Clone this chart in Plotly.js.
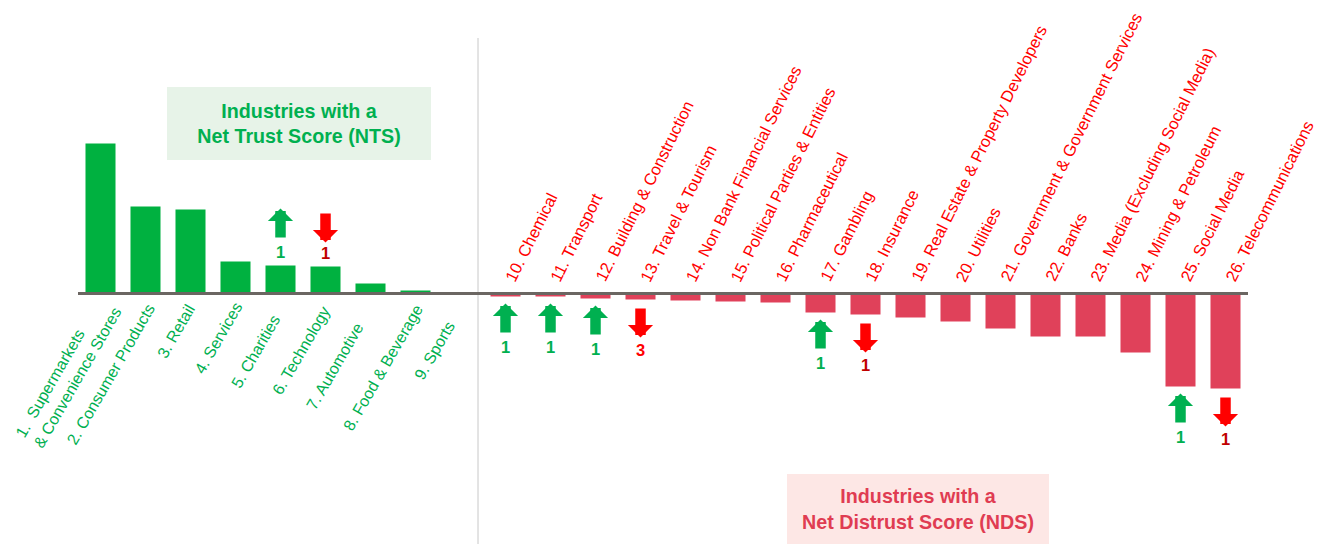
<!DOCTYPE html>
<html>
<head>
<meta charset="utf-8">
<script src="https://cdn.plot.ly/plotly-3.0.1.min.js"></script>
<style>html,body{margin:0;padding:0;background:#fff;}#chart{width:1324px;height:544px;}</style>
</head>
<body>
<div id="chart"></div>
<script>
// ---------------- data ----------------
const industries = [
  "1.&nbsp; Supermarkets<br>&amp; Convenience Stores", "2. Consumer Products", "3. Retail", "4. Services",
  "5. Charities", "6. Technology", "7. Automotive", "8. Food &amp; Beverage", "9. Sports",
  "10. Chemical", "11. Transport", "12. Building &amp; Construction", "13. Travel &amp; Tourism",
  "14. Non Bank Financial Services", "15. Political Parties &amp; Entities", "16. Pharmaceutical",
  "17. Gambling", "18. Insurance", "19. Real Estate &amp; Property Developers", "20. Utilities",
  "21. Government &amp; Government Services", "22. Banks", "23. Media (Excluding Social Media)",
  "24. Mining &amp; Petroleum", "25. Social Media", "26. Telecommunications"
];
const netScores = [30.0, 17.4, 16.8, 6.4, 5.6, 5.4, 2.0, 0.6, 0.0,
  -0.6, -0.6, -1.0, -1.2, -1.4, -1.6, -1.8, -3.8, -4.2, -4.8, -5.6, -7.0, -8.6, -8.6, -11.8, -18.6, -19.0];
const rankMove = ["", "", "", "", "up", "down", "", "", "",
  "up", "up", "up", "down", "", "", "", "up", "down", "", "", "", "", "", "", "up", "down"];
const rankMoveBy = [0, 0, 0, 0, 1, 1, 0, 0, 0, 1, 1, 1, 3, 0, 0, 0, 1, 1, 0, 0, 0, 0, 0, 0, 1, 1];
const boxTexts = ["Industries with a<br>Net Trust Score (NTS)", "Industries with a<br>Net Distrust Score (NDS)"];

// ---------------- styles ----------------
const W = 1324, H = 544;
const GREEN_BAR = "#00b140", RED_BAR = "#e0415a";
const GREEN_TXT = "#00b050", RED_TXT = "#ff0000", DARK_RED = "#c00000";
const FONT = 'Arial, "Liberation Sans", sans-serif';
const RED_LABEL = {size: 16.5, angle: -63.5};
const GREEN_LABEL = {size: 16, angle: -60};
const idx = industries.map((_, i) => i);
const brightNumber = {12: true};
// pixel shifts of the green labels' top-right corner (hand placed in the original)
const greenShift = {0: [26, 1], 1: [14, -7], 2: [9, -7], 3: [11, -5], 4: [4, -17],
  5: [9, -9], 6: [-3, -25], 7: [12, -7], 8: [-1, -24]};

const trace = {
  type: "bar", x: idx, y: netScores,
  marker: {color: netScores.map(v => v >= 0 ? GREEN_BAR : RED_BAR), line: {width: 0}},
  hoverinfo: "skip"
};

const annotations = [];
// category labels
idx.forEach(i => {
  if (netScores[i] >= 0) {
    const sh = greenShift[i] || [6, -8];
    annotations.push({x: i, y: 0, xref: "x", yref: "y", text: industries[i], showarrow: false,
      textangle: GREEN_LABEL.angle, xanchor: "right", yanchor: "top", xshift: sh[0], yshift: sh[1], align: "left",
      borderpad: 0, font: {family: FONT, size: GREEN_LABEL.size, color: GREEN_TXT}});
  } else {
    annotations.push({x: i, y: 0, xref: "x", yref: "y", text: industries[i], showarrow: false,
      textangle: RED_LABEL.angle, xanchor: "left", yanchor: "bottom", xshift: -5, yshift: 8,
      borderpad: 0, font: {family: FONT, size: RED_LABEL.size, color: RED_TXT}});
  }
});
// rank movement arrows + numbers
idx.forEach(i => {
  const dir = rankMove[i];
  if (!dir) return;
  const pos = netScores[i] >= 0;
  const up = dir === "up";
  const col = up ? "#00b050" : "#ff0000";
  let tipShift, ay, numShift;
  if (pos) {
    if (up) { tipShift = 57; ay = 30; } else { tipShift = 24; ay = -30; }
    numShift = 14;
  } else {
    if (up) { tipShift = -7; ay = 30; } else { tipShift = -38; ay = -30; }
    numShift = -50;
  }
  annotations.push({x: i, y: netScores[i], xref: "x", yref: "y", text: " ", showarrow: true,
    ax: 0, ay: ay, yshift: tipShift, arrowhead: 1, arrowwidth: 10.5, arrowsize: 0.4,
    arrowcolor: col, standoff: 0, startstandoff: 0, borderpad: 0,
    font: {size: 1, color: "rgba(0,0,0,0)"}});
  const numCol = up ? "#00b050" : (brightNumber[i] ? "#ff0000" : DARK_RED);
  annotations.push({x: i, y: netScores[i], xref: "x", yref: "y", text: "<b>" + rankMoveBy[i] + "</b>",
    showarrow: false, yshift: numShift, xanchor: "center", yanchor: "middle", borderpad: 0,
    font: {family: FONT, size: 16.5, color: numCol}});
});
// group boxes
annotations.push({xref: "paper", yref: "paper", x: 299 / W, y: 1 - 123.5 / H, xanchor: "center", yanchor: "middle",
  text: "<b>" + boxTexts[0] + "</b>", showarrow: false, width: 264, height: 73, bgcolor: "#e7f3e8",
  borderpad: 0, borderwidth: 0, font: {family: FONT, size: 19.7, color: "#00b050"}});
annotations.push({xref: "paper", yref: "paper", x: 918 / W, y: 1 - 509 / H, xanchor: "center", yanchor: "middle",
  text: "<b>" + boxTexts[1] + "</b>", showarrow: false, width: 262, height: 70, bgcolor: "#fde7e5",
  borderpad: 0, borderwidth: 0, font: {family: FONT, size: 19.7, color: "#e03c52"}});

const layout = {
  width: W, height: H, autosize: false,
  margin: {l: 0, r: 0, t: 0, b: 0, pad: 0},
  paper_bgcolor: "#ffffff", plot_bgcolor: "#ffffff",
  showlegend: false, bargap: 0.333,
  xaxis: {range: [-100.5 / 45, (W - 100.5) / 45], visible: false, fixedrange: true},
  yaxis: {range: [-50.1, 58.7], visible: false, fixedrange: true},
  shapes: [
    {type: "line", xref: "paper", yref: "paper", x0: 478 / W, x1: 478 / W, y0: 0, y1: 1 - 38 / H,
      line: {color: "#c8c8c8", width: 1}},
    {type: "line", xref: "x", yref: "y", x0: -0.5, x1: 25.5, y0: 0, y1: 0,
      line: {color: "#6b6662", width: 3}}
  ],
  annotations: annotations,
  font: {family: FONT}
};

Plotly.newPlot("chart", [trace], layout, {displayModeBar: false, staticPlot: true});
</script>
</body>
</html>
